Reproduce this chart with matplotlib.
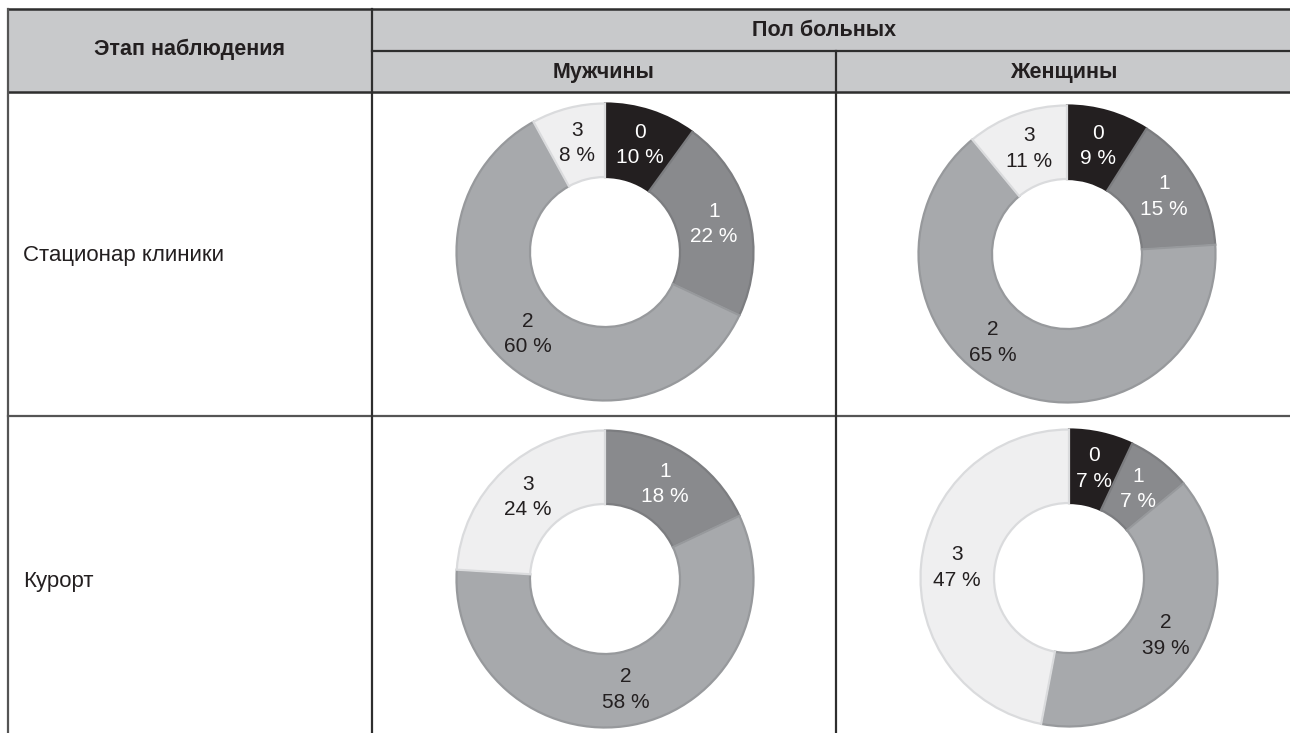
import numpy as np
import matplotlib
matplotlib.use("Agg")
import matplotlib.pyplot as plt
from matplotlib.patches import Rectangle

plt.rcParams["font.family"] = ["Liberation Sans", "DejaVu Sans"]

# grade categories and shares (%) per stage and sex
categories = ["0", "1", "2", "3"]
stages = ["Стационар клиники", "Курорт"]
groups = ["Мужчины", "Женщины"]
men_clinic = [10, 22, 60, 8]
women_clinic = [9, 15, 65, 11]
men_resort = [0, 18, 58, 24]
women_resort = [7, 7, 39, 47]

shares = [[men_clinic, women_clinic], [men_resort, women_resort]]

fill_colors = ["#231f20", "#898a8d", "#a7a9ac", "#efeff0"]
edge_colors = ["#231f20", "#7c7d80", "#97999c", "#dadbdd"]
text_colors = ["white", "white", "#231f20", "#231f20"]

W, H = 1290, 733
fig = plt.figure(figsize=(W / 100, H / 100), dpi=100)
fig.patch.set_facecolor("white")

# table grid drawn in pixel coordinates
bg = fig.add_axes([0, 0, 1, 1])
bg.set_xlim(0, W)
bg.set_ylim(H, 0)
bg.axis("off")

left, col1, col2, right = 8, 372, 836, 1292
top, sub, head, row_sep = 9, 51, 92, 416

bg.add_patch(Rectangle((left, top), right - left, head - top, color="#c8c9cb", zorder=0))
dark = "#2e2e2e"
mid = "#555555"
bg.plot([left, right], [top, top], color=dark, lw=1.8)
bg.plot([col1, right], [sub, sub], color=dark, lw=1.6)
bg.plot([left, right], [head, head], color=dark, lw=1.8)
bg.plot([left, right], [row_sep, row_sep], color=mid, lw=1.6)
bg.plot([left, left], [top, H], color=mid, lw=1.6)
bg.plot([col1, col1], [top, H], color=dark, lw=1.6)
bg.plot([col2, col2], [sub, H], color=dark, lw=1.6)

hdr = dict(fontsize=15.5, fontweight="bold", color="#231f20", ha="center", va="center")
bg.text((left + col1) / 2, (top + head) / 2 - 1, "Этап наблюдения", **hdr)
bg.text((col1 + right) / 2 - 8, (top + sub) / 2 + 1, "Пол больных", **hdr)
bg.text((col1 + col2) / 2, (sub + head) / 2 + 1, groups[0], **hdr)
bg.text((col2 + right) / 2, (sub + head) / 2 + 1, groups[1], **hdr)

row_y = [256, 582]
for label, y in zip(stages, row_y):
    bg.text(23, y, label, fontsize=16, color="#231f20", ha="left", va="center")

# donut placement (pixel centre and outer radius)
centers = [[(605, 252), (1067, 254)], [(605, 579), (1069, 578)]]
radius = 150
# manual nudge for labels that sit off the wedge's mid-angle
label_shift = {(0, 1, 2): (-0.2, 0.1)}

for i in range(2):
    for j in range(2):
        cx, cy = centers[i][j]
        ax = fig.add_axes([(cx - radius) / W, 1 - (cy + radius) / H,
                           2 * radius / W, 2 * radius / H])
        vals = shares[i][j]
        idx = [k for k, v in enumerate(vals) if v > 0]
        wedges, _ = ax.pie([vals[k] for k in idx],
                           colors=[fill_colors[k] for k in idx],
                           startangle=90, counterclock=False, radius=0.99,
                           wedgeprops=dict(width=0.49, linewidth=1.6))
        for w, k in zip(wedges, idx):
            w.set_edgecolor(edge_colors[k])
            ang = np.deg2rad((w.theta1 + w.theta2) / 2)
            r = 0.75
            x, y = r * np.cos(ang), r * np.sin(ang)
            dx, dy = label_shift.get((i, j, k), (0, 0))
            ax.text(x + dx, y + dy, f"{categories[k]}\n{vals[k]} %",
                    ha="center", va="center", fontsize=15,
                    color=text_colors[k], linespacing=1.45)
        ax.set_xlim(-1, 1)
        ax.set_ylim(-1, 1)

fig.savefig("out.png", dpi=100)
